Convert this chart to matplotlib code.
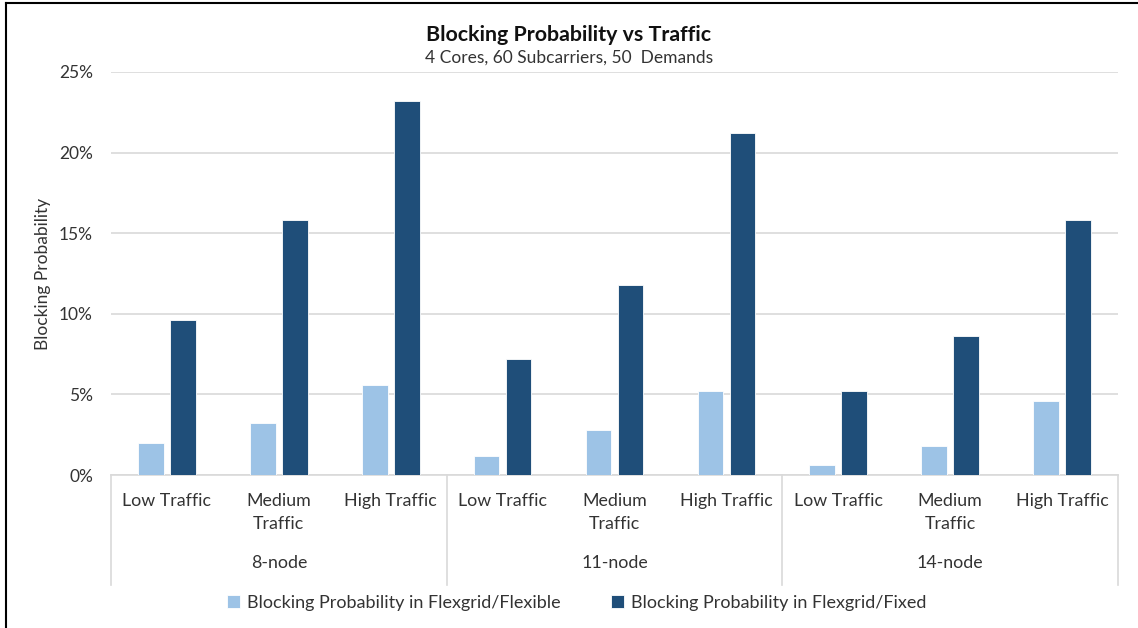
import numpy as np
import matplotlib.pyplot as plt
from matplotlib.lines import Line2D
from matplotlib.ticker import PercentFormatter

plt.rcParams['font.family'] = ['Lato', 'DejaVu Sans']

# Data (percent)
groups = ['8-node', '11-node', '14-node']
traffic = ['Low Traffic', 'Medium\nTraffic', 'High Traffic']
flexible = [2.0, 3.2, 5.6, 1.2, 2.8, 5.2, 0.6, 1.8, 4.6]
fixed = [9.6, 15.8, 23.2, 7.2, 11.8, 21.2, 5.2, 8.6, 15.8]
series_names = ['Blocking Probability in Flexgrid/Flexible',
                'Blocking Probability in Flexgrid/Fixed']

light = '#9DC3E6'
dark = '#1F4E79'
grid_c = '#D9D9D9'
text_c = '#333333'

fig = plt.figure(figsize=(11.38, 6.28), dpi=100)
ax = fig.add_axes([111 / 1138, 1 - 475 / 628, (1118 - 111) / 1138, (475 - 72) / 628])

x = np.arange(len(flexible))
w = 0.23
b1 = ax.bar(x - 0.143, flexible, w, color=light, edgecolor='white', linewidth=0.6,
            label=series_names[0], zorder=3)
b2 = ax.bar(x + 0.143, fixed, w, color=dark, edgecolor='white', linewidth=0.6,
            label=series_names[1], zorder=3)

ax.set_xlim(-0.5, len(x) - 0.5)
ax.set_ylim(0, 25)
ax.set_yticks(np.arange(0, 26, 5))
ax.yaxis.set_major_formatter(PercentFormatter(decimals=0))
ax.tick_params(axis='y', length=0, pad=13, labelsize=12.5, labelcolor=text_c)
ax.set_xticks([])
ax.yaxis.grid(True, color=grid_c, linewidth=1.2, zorder=0)
for s in ['top', 'right', 'left']:
    ax.spines[s].set_visible(False)
ax.spines['bottom'].set_color(grid_c)
ax.spines['bottom'].set_linewidth(1.2)

ax.set_ylabel('Blocking Probability', fontsize=12.5, color=text_c, labelpad=6)

# category labels
trans = ax.get_xaxis_transform()
for i in x:
    ax.text(i, -0.045, traffic[i % 3], transform=trans, ha='center', va='top',
            fontsize=12.8, color=text_c, linespacing=1.5)
for g, name in enumerate(groups):
    ax.text(3 * g + 1, -0.218, name, transform=trans, ha='center', va='center',
            fontsize=12.8, color=text_c)
for sep in [-0.5, 2.5, 5.5, 8.5]:
    ax.add_line(Line2D([sep, sep], [0, -0.273], transform=trans, color=grid_c,
                       linewidth=1.2, clip_on=False))

fig.text(0.5, 1 - 35 / 628, 'Blocking Probability vs Traffic', ha='center', va='center',
         fontsize=15.4, fontweight='bold', color='#111111')
fig.text(0.5, 1 - 58 / 628, '4 Cores, 60 Subcarriers, 50  Demands', ha='center',
         va='center', fontsize=12.5, color=text_c)

fig.legend(handles=[b1, b2], loc='center', bbox_to_anchor=(577 / 1138, 1 - 603 / 628),
           ncol=2, frameon=False, fontsize=13, handlelength=0.7, handleheight=0.7,
           handletextpad=0.4, columnspacing=2.8, labelcolor=text_c)

# screenshot border
fig.add_artist(Line2D([6 / 1138, 6 / 1138], [0, 1 - 3 / 628], transform=fig.transFigure,
                      color='black', linewidth=1.5))
fig.add_artist(Line2D([6 / 1138, 1], [1 - 3 / 628, 1 - 3 / 628], transform=fig.transFigure,
                      color='black', linewidth=1.5))

fig.savefig('out.png', dpi=100)
